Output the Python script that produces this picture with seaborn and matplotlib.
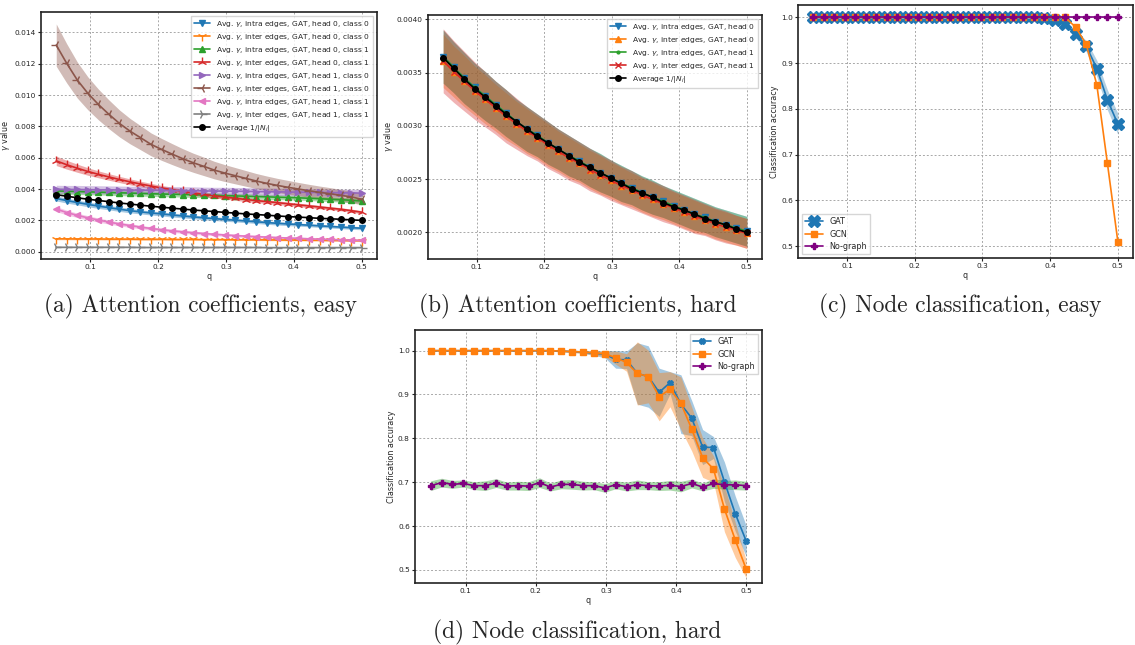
import numpy as np
import pandas as pd
import seaborn as sns
import matplotlib
matplotlib.use('Agg')
import matplotlib.pyplot as plt

sns.set_style('white')
plt.rcParams['font.family'] = ['DejaVu Sans']
plt.rcParams['mathtext.fontset'] = 'dejavusans'

# q grid (30 points)
q = [0.05, 0.0655, 0.0810, 0.0966, 0.1121, 0.1276, 0.1431, 0.1586, 0.1741, 0.1897,
     0.2052, 0.2207, 0.2362, 0.2517, 0.2672, 0.2828, 0.2983, 0.3138, 0.3293, 0.3448,
     0.3603, 0.3759, 0.3914, 0.4069, 0.4224, 0.4379, 0.4534, 0.4690, 0.4845, 0.5]

# average 1/|N_i| (used in a and b)
avg_inv_deg = [0.00364, 0.00354, 0.00344, 0.00335, 0.00327, 0.00319, 0.00311, 0.00304, 0.00297, 0.00290,
               0.00284, 0.00278, 0.00272, 0.00266, 0.00261, 0.00256, 0.00251, 0.00246, 0.00241, 0.00237,
               0.00233, 0.00228, 0.00224, 0.00221, 0.00217, 0.00213, 0.00210, 0.00207, 0.00203, 0.00200]

# (a) easy: gamma per head / class
easy_intra_h0_c0 = [0.00340, 0.00326, 0.00314, 0.00302, 0.00291, 0.00281, 0.00271, 0.00262, 0.00254, 0.00247,
                    0.00241, 0.00234, 0.00228, 0.00222, 0.00216, 0.00211, 0.00206, 0.00201, 0.00196, 0.00191,
                    0.00186, 0.00181, 0.00177, 0.00173, 0.00169, 0.00165, 0.00161, 0.00157, 0.00153, 0.00150]
easy_intra_h0_c0_sd = [0.00016, 0.00016, 0.00015, 0.00015, 0.00015, 0.00014, 0.00014, 0.00014, 0.00013, 0.00013,
                       0.00013, 0.00013, 0.00012, 0.00012, 0.00012, 0.00012, 0.00012, 0.00011, 0.00011, 0.00011,
                       0.00011, 0.00011, 0.00011, 0.00010, 0.00010, 0.00010, 0.00010, 0.00010, 0.00010, 0.00010]
easy_inter_h0_c0 = [0.00082, 0.00082, 0.00081, 0.00081, 0.00081, 0.00080, 0.00080, 0.00080, 0.00079, 0.00079,
                    0.00079, 0.00078, 0.00078, 0.00078, 0.00077, 0.00077, 0.00077, 0.00076, 0.00076, 0.00076,
                    0.00075, 0.00075, 0.00074, 0.00074, 0.00073, 0.00073, 0.00072, 0.00072, 0.00071, 0.00071]
easy_inter_h0_c0_sd = [0.00006, 0.00006, 0.00006, 0.00006, 0.00006, 0.00006, 0.00006, 0.00006, 0.00006, 0.00006,
                       0.00005, 0.00005, 0.00005, 0.00005, 0.00005, 0.00005, 0.00005, 0.00005, 0.00005, 0.00005,
                       0.00005, 0.00005, 0.00005, 0.00005, 0.00005, 0.00005, 0.00005, 0.00005, 0.00005, 0.00005]
easy_intra_h0_c1 = [0.00388, 0.00386, 0.00384, 0.00382, 0.00380, 0.00378, 0.00376, 0.00374, 0.00372, 0.00370,
                    0.00368, 0.00367, 0.00365, 0.00363, 0.00362, 0.00360, 0.00358, 0.00356, 0.00354, 0.00352,
                    0.00350, 0.00348, 0.00346, 0.00344, 0.00341, 0.00338, 0.00335, 0.00332, 0.00328, 0.00324]
easy_intra_h0_c1_sd = [0.00019, 0.00019, 0.00019, 0.00018, 0.00018, 0.00018, 0.00018, 0.00018, 0.00018, 0.00017,
                       0.00017, 0.00017, 0.00017, 0.00017, 0.00017, 0.00016, 0.00016, 0.00016, 0.00016, 0.00016,
                       0.00016, 0.00016, 0.00015, 0.00015, 0.00015, 0.00015, 0.00015, 0.00015, 0.00015, 0.00015]
easy_inter_h0_c1 = [0.00580, 0.00555, 0.00533, 0.00512, 0.00494, 0.00477, 0.00461, 0.00446, 0.00432, 0.00419,
                    0.00407, 0.00396, 0.00385, 0.00375, 0.00366, 0.00357, 0.00349, 0.00341, 0.00333, 0.00326,
                    0.00320, 0.00313, 0.00306, 0.00299, 0.00292, 0.00285, 0.00278, 0.00271, 0.00262, 0.00252]
easy_inter_h0_c1_sd = [0.00030, 0.00028, 0.00026, 0.00024, 0.00022, 0.00021, 0.00020, 0.00019, 0.00018, 0.00017,
                       0.00016, 0.00016, 0.00015, 0.00015, 0.00014, 0.00014, 0.00013, 0.00013, 0.00013, 0.00012,
                       0.00012, 0.00012, 0.00011, 0.00011, 0.00011, 0.00011, 0.00010, 0.00010, 0.00010, 0.00010]
easy_intra_h1_c0 = [0.00398, 0.00397, 0.00397, 0.00396, 0.00395, 0.00395, 0.00394, 0.00393, 0.00393, 0.00392,
                    0.00391, 0.00390, 0.00390, 0.00389, 0.00388, 0.00387, 0.00387, 0.00386, 0.00385, 0.00384,
                    0.00383, 0.00382, 0.00381, 0.00380, 0.00379, 0.00378, 0.00377, 0.00376, 0.00375, 0.00374]
easy_intra_h1_c0_sd = [0.00026, 0.00026, 0.00026, 0.00026, 0.00026, 0.00025, 0.00025, 0.00025, 0.00025, 0.00025,
                       0.00025, 0.00025, 0.00025, 0.00025, 0.00024, 0.00024, 0.00024, 0.00024, 0.00024, 0.00024,
                       0.00024, 0.00024, 0.00024, 0.00023, 0.00023, 0.00023, 0.00023, 0.00023, 0.00023, 0.00023]
easy_inter_h1_c0 = [0.01319, 0.01202, 0.01096, 0.01011, 0.00940, 0.00877, 0.00819, 0.00770, 0.00728, 0.00685,
                    0.00653, 0.00623, 0.00594, 0.00568, 0.00545, 0.00521, 0.00502, 0.00485, 0.00468, 0.00451,
                    0.00436, 0.00423, 0.00411, 0.00400, 0.00389, 0.00379, 0.00370, 0.00360, 0.00350, 0.00335]
easy_inter_h1_c0_sd = [0.00135, 0.00125, 0.00115, 0.00105, 0.00098, 0.00092, 0.00086, 0.00081, 0.00077, 0.00073,
                       0.00070, 0.00067, 0.00064, 0.00061, 0.00059, 0.00056, 0.00054, 0.00052, 0.00050, 0.00048,
                       0.00047, 0.00045, 0.00044, 0.00042, 0.00041, 0.00040, 0.00039, 0.00038, 0.00037, 0.00036]
easy_intra_h1_c1 = [0.00272, 0.00250, 0.00232, 0.00216, 0.00202, 0.00189, 0.00177, 0.00167, 0.00157, 0.00148,
                    0.00140, 0.00133, 0.00127, 0.00121, 0.00116, 0.00111, 0.00107, 0.00103, 0.00099, 0.00096,
                    0.00093, 0.00090, 0.00087, 0.00085, 0.00082, 0.00080, 0.00078, 0.00076, 0.00074, 0.00072]
easy_intra_h1_c1_sd = [0.00016, 0.00015, 0.00014, 0.00014, 0.00013, 0.00013, 0.00012, 0.00012, 0.00011, 0.00011,
                       0.00011, 0.00010, 0.00010, 0.00010, 0.00010, 0.00009, 0.00009, 0.00009, 0.00009, 0.00009,
                       0.00009, 0.00008, 0.00008, 0.00008, 0.00008, 0.00008, 0.00008, 0.00008, 0.00008, 0.00008]
easy_inter_h1_c1 = [0.00028, 0.00028, 0.00028, 0.00028, 0.00028, 0.00028, 0.00028, 0.00028, 0.00027, 0.00027,
                    0.00027, 0.00027, 0.00027, 0.00027, 0.00027, 0.00027, 0.00027, 0.00027, 0.00027, 0.00027,
                    0.00026, 0.00026, 0.00026, 0.00026, 0.00026, 0.00026, 0.00026, 0.00026, 0.00026, 0.00026]
easy_inter_h1_c1_sd = [0.00003, 0.00003, 0.00003, 0.00003, 0.00003, 0.00003, 0.00003, 0.00003, 0.00003, 0.00003,
                       0.00003, 0.00003, 0.00003, 0.00003, 0.00003, 0.00003, 0.00003, 0.00003, 0.00003, 0.00003,
                       0.00003, 0.00003, 0.00003, 0.00003, 0.00003, 0.00003, 0.00003, 0.00003, 0.00003, 0.00003]

# (b) hard: gamma per head
hard_intra = [0.00365, 0.00355, 0.00345, 0.00336, 0.00328, 0.00320, 0.00312, 0.00304, 0.00297, 0.00291,
              0.00284, 0.00278, 0.00272, 0.00267, 0.00261, 0.00256, 0.00251, 0.00246, 0.00242, 0.00237,
              0.00233, 0.00229, 0.00225, 0.00221, 0.00217, 0.00214, 0.00210, 0.00207, 0.00204, 0.00201]
hard_inter = [0.00361, 0.00351, 0.00342, 0.00333, 0.00325, 0.00317, 0.00309, 0.00302, 0.00295, 0.00289,
              0.00282, 0.00276, 0.00270, 0.00265, 0.00259, 0.00254, 0.00249, 0.00244, 0.00240, 0.00235,
              0.00231, 0.00227, 0.00223, 0.00219, 0.00215, 0.00212, 0.00208, 0.00205, 0.00202, 0.00199]
hard_intra_sd = [0.00025, 0.00024, 0.00024, 0.00023, 0.00023, 0.00022, 0.00022, 0.00021, 0.00021, 0.00020,
                 0.00020, 0.00019, 0.00019, 0.00018, 0.00018, 0.00018, 0.00017, 0.00017, 0.00016, 0.00016,
                 0.00016, 0.00015, 0.00015, 0.00015, 0.00015, 0.00014, 0.00014, 0.00014, 0.00014, 0.00014]
hard_inter_sd = [0.00030, 0.00029, 0.00028, 0.00027, 0.00026, 0.00025, 0.00025, 0.00024, 0.00023, 0.00022,
                 0.00022, 0.00021, 0.00021, 0.00020, 0.00020, 0.00019, 0.00019, 0.00018, 0.00018, 0.00017,
                 0.00017, 0.00017, 0.00016, 0.00016, 0.00016, 0.00015, 0.00015, 0.00015, 0.00014, 0.00014]

# (c) easy node classification
easy_gat = [1.0, 1.0, 1.0, 1.0, 1.0, 1.0, 1.0, 1.0, 1.0, 1.0,
            1.0, 1.0, 1.0, 1.0, 1.0, 1.0, 1.0, 1.0, 1.0, 1.0,
            1.0, 1.0, 0.998, 0.995, 0.985, 0.964, 0.937, 0.888, 0.820, 0.767]
easy_gat_sd = [0.001, 0.001, 0.001, 0.001, 0.001, 0.001, 0.001, 0.001, 0.001, 0.001,
               0.001, 0.001, 0.001, 0.001, 0.001, 0.001, 0.001, 0.001, 0.001, 0.001,
               0.001, 0.001, 0.002, 0.003, 0.005, 0.008, 0.012, 0.018, 0.022, 0.023]
easy_gcn = [1.0, 1.0, 1.0, 1.0, 1.0, 1.0, 1.0, 1.0, 1.0, 1.0,
            1.0, 1.0, 1.0, 1.0, 1.0, 1.0, 1.0, 1.0, 1.0, 1.0,
            1.0, 1.0, 1.0, 1.0, 1.0, 0.978, 0.941, 0.852, 0.682, 0.510]
easy_nograph = [1.0] * 30

# (d) hard node classification
hard_gat = [1.0, 1.0, 1.0, 1.0, 1.0, 1.0, 1.0, 1.0, 1.0, 1.0,
            1.0, 1.0, 0.999, 0.998, 0.997, 0.994, 0.992, 0.980, 0.979, 0.948,
            0.941, 0.905, 0.927, 0.878, 0.846, 0.780, 0.779, 0.701, 0.628, 0.566]
hard_gat_sd = [0.001, 0.001, 0.001, 0.001, 0.001, 0.001, 0.001, 0.001, 0.001, 0.001,
               0.001, 0.001, 0.002, 0.002, 0.003, 0.005, 0.008, 0.020, 0.020, 0.070,
               0.070, 0.055, 0.025, 0.067, 0.040, 0.040, 0.025, 0.045, 0.040, 0.035]
hard_gcn = [1.0, 1.0, 1.0, 1.0, 1.0, 1.0, 1.0, 1.0, 1.0, 1.0,
            1.0, 1.0, 0.999, 0.998, 0.997, 0.995, 0.993, 0.984, 0.973, 0.948,
            0.941, 0.895, 0.912, 0.880, 0.821, 0.756, 0.730, 0.639, 0.568, 0.502]
hard_gcn_sd = [0.001, 0.001, 0.001, 0.001, 0.001, 0.001, 0.001, 0.001, 0.001, 0.001,
               0.001, 0.001, 0.002, 0.002, 0.003, 0.004, 0.006, 0.015, 0.020, 0.072,
               0.060, 0.055, 0.040, 0.060, 0.050, 0.045, 0.030, 0.052, 0.040, 0.020]
hard_nograph = [0.692, 0.699, 0.695, 0.697, 0.692, 0.692, 0.698, 0.691, 0.692, 0.691,
                0.699, 0.689, 0.695, 0.695, 0.692, 0.692, 0.687, 0.694, 0.690, 0.694,
                0.692, 0.691, 0.693, 0.690, 0.697, 0.689, 0.697, 0.694, 0.694, 0.692]
hard_nograph_sd = [0.011, 0.010, 0.009, 0.008, 0.009, 0.011, 0.010, 0.009, 0.010, 0.010,
                   0.011, 0.009, 0.010, 0.011, 0.010, 0.009, 0.010, 0.009, 0.010, 0.011,
                   0.009, 0.010, 0.011, 0.012, 0.010, 0.009, 0.011, 0.010, 0.011, 0.010]

pal = sns.color_palette('tab10')
q_arr = np.array(q)


def band_line(ax, y, sd, color, marker, label, ms=5, alpha=0.4, band_color=None, mew=1.0, zorder=2):
    y = np.array(y)
    if sd is not None:
        sd = np.array(sd)
        ax.fill_between(q_arr, y - sd, y + sd, color=band_color or color, alpha=alpha, linewidth=0, zorder=zorder)
    sns.lineplot(x=q_arr, y=y, ax=ax, color=color, marker=marker, markersize=ms, label=label,
                 markeredgecolor=color, markeredgewidth=mew, linewidth=1.2, zorder=zorder + 0.5)


def style_ax(ax, xlabel, ylabel):
    ax.grid(True, linestyle=(0, (2, 2)), color='#a8a8a8', linewidth=0.7)
    ax.set_xlabel(xlabel, fontsize=5.8, labelpad=1)
    ax.set_ylabel(ylabel, fontsize=5.8, labelpad=1.5)
    ax.tick_params(axis='both', labelsize=5.3, direction='out', length=2.5, width=0.8, colors='#222222',
                   bottom=True, left=True, pad=1.2)
    ax.set_xticks([0.1, 0.2, 0.3, 0.4, 0.5])
    ax.set_xlim(0.0275, 0.5225)
    for s in ax.spines.values():
        s.set_linewidth(1.2)
        s.set_color('#222222')


def add_legend(ax, loc, size):
    ax.legend(loc=loc, fontsize=size, handlelength=2.2, borderpad=0.4, labelspacing=0.4,
              framealpha=0.8, edgecolor='#cccccc', fancybox=False)


fig = plt.figure(figsize=(11.35, 6.45), dpi=100)

# (a)
ax = fig.add_axes([0.0361, 0.5984, 0.2960, 0.3829])
G = r'Avg. $\gamma$, '
band_line(ax, easy_intra_h0_c0, easy_intra_h0_c0_sd, pal[0], 'v', G + 'intra edges, GAT, head 0, class 0')
band_line(ax, easy_inter_h0_c0, easy_inter_h0_c0_sd, pal[1], '1', G + 'inter edges, GAT, head 0, class 0', ms=7)
band_line(ax, easy_intra_h0_c1, easy_intra_h0_c1_sd, pal[2], '^', G + 'intra edges, GAT, head 0, class 1')
band_line(ax, easy_inter_h0_c1, easy_inter_h0_c1_sd, pal[3], '2', G + 'inter edges, GAT, head 0, class 1', ms=7)
band_line(ax, easy_intra_h1_c0, easy_intra_h1_c0_sd, pal[4], '>', G + 'intra edges, GAT, head 1, class 0')
band_line(ax, easy_inter_h1_c0, easy_inter_h1_c0_sd, pal[5], '3', G + 'inter edges, GAT, head 1, class 0', ms=7)
band_line(ax, easy_intra_h1_c1, easy_intra_h1_c1_sd, pal[6], '<', G + 'intra edges, GAT, head 1, class 1')
band_line(ax, easy_inter_h1_c1, easy_inter_h1_c1_sd, pal[7], '4', G + 'inter edges, GAT, head 1, class 1', ms=7)
band_line(ax, avg_inv_deg, None, 'black', 'o', r'Average 1/$|N_i|$', ms=4)
ax.set_ylim(-0.00047, 0.0153)
ax.set_yticks([0.0, 0.002, 0.004, 0.006, 0.008, 0.010, 0.012, 0.014])
ax.set_yticklabels(['0.000', '0.002', '0.004', '0.006', '0.008', '0.010', '0.012', '0.014'])
style_ax(ax, 'q', r'$\gamma$ value')
add_legend(ax, 'upper right', 5.4)

# (b)
ax = fig.add_axes([0.3771, 0.5984, 0.2943, 0.3783])
band_line(ax, hard_intra, hard_intra_sd, pal[0], 'v', G + 'intra edges, GAT, head 0', ms=4, alpha=0.35)
band_line(ax, hard_inter, hard_intra_sd, pal[1], '^', G + 'inter edges, GAT, head 0', ms=4, alpha=0.35)
band_line(ax, hard_intra, hard_intra_sd, pal[2], '.', G + 'intra edges, GAT, head 1', ms=4, alpha=0.35)
band_line(ax, hard_inter, hard_inter_sd, pal[3], 'x', G + 'inter edges, GAT, head 1', ms=4, alpha=0.35)
band_line(ax, avg_inv_deg, None, 'black', 'o', r'Average 1/$|N_i|$', ms=4)
ax.set_ylim(0.00175, 0.00404)
ax.set_yticks([0.0020, 0.0025, 0.0030, 0.0035, 0.0040])
ax.set_yticklabels(['0.0020', '0.0025', '0.0030', '0.0035', '0.0040'])
style_ax(ax, 'q', r'$\gamma$ value')
add_legend(ax, 'upper right', 5.4)

# (c)
ax = fig.add_axes([0.7031, 0.6000, 0.2952, 0.3922])
band_line(ax, easy_gat, easy_gat_sd, pal[0], 'X', 'GAT', ms=8, alpha=0.35)
band_line(ax, easy_gcn, None, pal[1], 's', 'GCN', ms=4)
band_line(ax, easy_nograph, None, 'purple', 'P', 'No-graph', ms=5)
ax.set_ylim(0.474, 1.027)
ax.set_yticks([0.5, 0.6, 0.7, 0.8, 0.9, 1.0])
style_ax(ax, 'q', 'Classification accuracy')
add_legend(ax, 'lower left', 5.8)

# (d)
ax = fig.add_axes([0.3656, 0.0961, 0.3057, 0.3922])
band_line(ax, hard_gat, hard_gat_sd, pal[0], 'X', 'GAT', ms=4, alpha=0.4)
band_line(ax, hard_gcn, hard_gcn_sd, pal[1], 's', 'GCN', ms=5, alpha=0.4)
band_line(ax, hard_nograph, hard_nograph_sd, 'purple', 'P', 'No-graph', ms=5, alpha=0.4, band_color=pal[2])
ax.set_ylim(0.47, 1.047)
ax.set_yticks([0.5, 0.6, 0.7, 0.8, 0.9, 1.0])
style_ax(ax, 'q', 'Classification accuracy')
add_legend(ax, 'upper right', 5.8)

# captions
cap = dict(fontsize=16.8, fontfamily='cmr10', ha='center', va='center')
fig.text(200 / 1135, 1 - 306 / 645, '(a) Attention coefficients, easy', **cap)
fig.text(578 / 1135, 1 - 306 / 645, '(b) Attention coefficients, hard', **cap)
fig.text(960 / 1135, 1 - 306 / 645, '(c) Node classification, easy', **cap)
fig.text(577 / 1135, 1 - 632 / 645, '(d) Node classification, hard', **cap)

fig.savefig('out.png', dpi=100)
